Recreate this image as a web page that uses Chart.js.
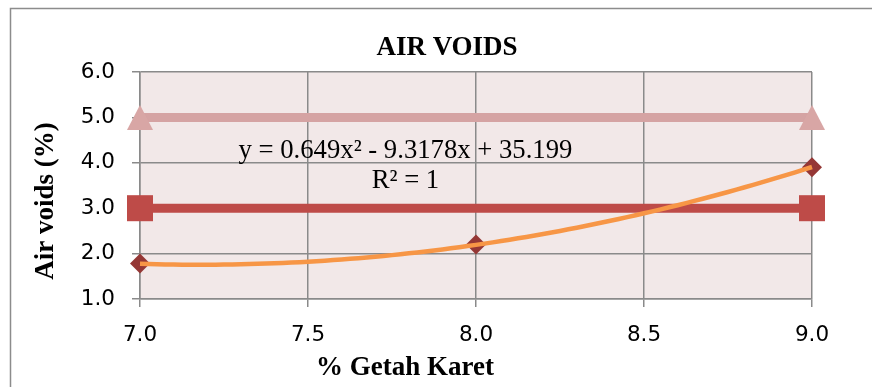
<!DOCTYPE html>
<html>
<head>
<meta charset="utf-8">
<title>AIR VOIDS</title>
<script src="https://cdn.jsdelivr.net/npm/chart.js@4.4.1/dist/chart.umd.min.js"></script>
<style>
  html, body { margin: 0; padding: 0; background: #ffffff; }
  #wrap { width: 872px; height: 387px; position: relative; }
</style>
</head>
<body>
<div id="wrap"><canvas id="chart" width="872" height="387"></canvas></div>
<script>
// Rubber latex content (%) and measured air voids (%)
const getahKaret = [7.0, 8.0, 9.0];
const airVoids = [1.78, 2.2, 3.9];

// Specification limits drawn as horizontal reference lines
const batasX = [7.0, 9.0];
const batasAtas = [5.0, 5.0];
const batasBawah = [3.0, 3.0];

// Polynomial trendline y = a x^2 + b x + c, as printed on the chart
const trendCoef = [0.649, -9.3178, 35.199];
const trendText = ['y = 0.649x\u00B2 - 9.3178x + 35.199', 'R\u00B2 = 1'];

// Axis tick values
const xTicks = [7.0, 7.5, 8.0, 8.5, 9.0];
const yTicks = [1.0, 2.0, 3.0, 4.0, 5.0, 6.0];

// Chart and axis titles
const chartTitle = 'AIR VOIDS';
const xTitle = '% Getah Karet';
const yTitle = 'Air voids (%)';

// Trendline samples evaluated from the printed coefficients
const trendPts = [];
for (let i = 0; i <= 80; i++) {
  const x = getahKaret[0] + (getahKaret[getahKaret.length - 1] - getahKaret[0]) * i / 80;
  trendPts.push({ x: x, y: trendCoef[0] * x * x + trendCoef[1] * x + trendCoef[2] });
}

// Triangle marker centred on its point
function triangleMarker(w, h, color) {
  const c = document.createElement('canvas');
  c.width = w; c.height = h;
  const g = c.getContext('2d');
  g.fillStyle = color;
  g.beginPath();
  g.moveTo(w / 2, 0);
  g.lineTo(w, h);
  g.lineTo(0, h);
  g.closePath();
  g.fill();
  return c;
}

const GRID = '#8a8a8a';
const SERIF = '"Liberation Serif", "Times New Roman", serif';
const SANS = '"DejaVu Sans", Verdana, sans-serif';

const pts = (xs, ys) => xs.map((x, i) => ({ x: x, y: ys[i] }));

// Plot background and outer frame
const framePlugin = {
  id: 'frame',
  beforeDraw(chart) {
    const { ctx, chartArea: a } = chart;
    ctx.save();
    ctx.fillStyle = '#ffffff';
    ctx.fillRect(0, 0, chart.width, chart.height);
    ctx.fillStyle = '#f2e8e8';
    ctx.fillRect(a.left, a.top, a.right - a.left, a.bottom - a.top);
    ctx.strokeStyle = '#8c8c8c';
    ctx.lineWidth = 1.5;
    ctx.beginPath();
    ctx.moveTo(10.5, chart.height + 2);
    ctx.lineTo(10.5, 8.5);
    ctx.lineTo(chart.width + 2, 8.5);
    ctx.stroke();
    ctx.restore();
  }
};

// Titles and trendline equation label
const textPlugin = {
  id: 'texts',
  afterDraw(chart) {
    const { ctx, scales: { x, y } } = chart;
    ctx.save();
    ctx.fillStyle = '#000000';
    ctx.textAlign = 'center';
    ctx.textBaseline = 'alphabetic';

    ctx.font = 'bold 27px ' + SERIF;
    ctx.fillText(chartTitle, 447, 55);
    ctx.fillText(xTitle, 405, 375);
    ctx.save();
    ctx.translate(53, 201);
    ctx.rotate(-Math.PI / 2);
    ctx.fillText(yTitle, 0, 0);
    ctx.restore();

    ctx.font = '26.7px ' + SERIF;
    const cx = x.getPixelForValue(7.79);
    ctx.fillText(trendText[0], cx, y.getPixelForValue(4.1));
    ctx.fillText(trendText[1], cx, y.getPixelForValue(3.44));
    ctx.restore();
  }
};

new Chart(document.getElementById('chart'), {
  type: 'scatter',
  data: {
    datasets: [
      {
        label: 'Poly. (Air voids)',
        data: trendPts,
        showLine: true,
        borderColor: '#f79646',
        borderWidth: 4.5,
        pointRadius: 0,
        fill: false,
        clip: false,
        order: 0
      },
      {
        label: 'Air voids',
        data: pts(getahKaret, airVoids),
        showLine: false,
        pointStyle: 'rectRot',
        pointRadius: 10,
        pointBackgroundColor: '#953735',
        pointBorderColor: '#953735',
        pointBorderWidth: 0,
        clip: false,
        order: 1
      },
      {
        label: 'Batas bawah',
        data: pts(batasX, batasBawah),
        showLine: true,
        borderColor: '#be4b48',
        borderWidth: 9,
        pointStyle: 'rect',
        pointRadius: 18.4,
        pointBackgroundColor: '#be4b48',
        pointBorderWidth: 0,
        clip: false,
        order: 2
      },
      {
        label: 'Batas atas',
        data: pts(batasX, batasAtas),
        showLine: true,
        borderColor: '#d5a3a3',
        borderWidth: 9,
        pointStyle: triangleMarker(26, 25, '#d8a6a5'),
        pointRadius: 13,
        clip: false,
        order: 3
      }
    ]
  },
  options: {
    responsive: false,
    animation: false,
    events: [],
    layout: { padding: { left: 10, right: 60, top: 72, bottom: 0 } },
    plugins: {
      legend: { display: false },
      tooltip: { enabled: false },
      title: { display: false }
    },
    scales: {
      x: {
        type: 'linear',
        min: xTicks[0],
        max: xTicks[xTicks.length - 1],
        afterBuildTicks(scale) { scale.ticks = xTicks.map(v => ({ value: v })); },
        afterFit(scale) { scale.height = 88; },
        grid: { color: GRID, lineWidth: 1.5, tickLength: 8, drawTicks: true, tickColor: GRID },
        border: { color: GRID, width: 1.5 },
        ticks: {
          color: '#000000',
          padding: 16,
          maxRotation: 0,
          font: { family: SANS, size: 21.5 },
          callback: (v) => Number(v).toFixed(1)
        }
      },
      y: {
        type: 'linear',
        min: yTicks[0],
        max: yTicks[yTicks.length - 1],
        afterBuildTicks(scale) { scale.ticks = yTicks.map(v => ({ value: v })); },
        afterFit(scale) { scale.width = 130; },
        grid: { color: GRID, lineWidth: 1.5, tickLength: 8, drawTicks: true, tickColor: GRID },
        border: { color: GRID, width: 1.5 },
        ticks: {
          color: '#000000',
          padding: 17,
          font: { family: SANS, size: 21.5 },
          callback: (v) => Number(v).toFixed(1)
        }
      }
    }
  },
  plugins: [framePlugin, textPlugin]
});
</script>
</body>
</html>
